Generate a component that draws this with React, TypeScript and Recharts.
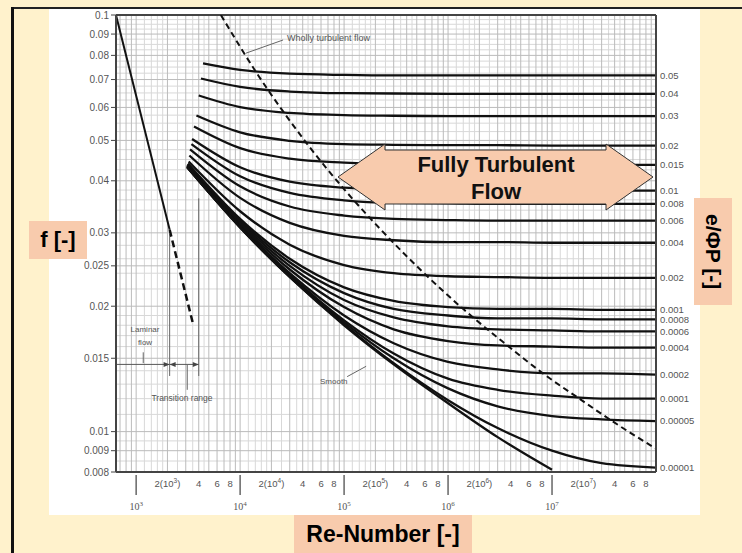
import React from 'react';
import {
  LineChart,
  Line,
  XAxis,
  YAxis,
  ReferenceLine,
  ReferenceDot,
} from 'recharts';

// relative roughness of each curve (right-hand labels), top to bottom
const epsLabels = [
  '0.05', '0.04', '0.03', '0.02', '0.015', '0.01', '0.008', '0.006', '0.004',
  '0.002', '0.001', '0.0008', '0.0006', '0.0004', '0.0002', '0.0001', '0.00005', '0.00001',
];

// where each rough curve begins (left end)
const startRe = [4400, 4200, 4000, 3800, 3600, 3450, 3400, 3300, 3250, 3200, 3150, 3120, 3100, 3100, 3100, 3100, 3100, 3100];
const startF = [0.0765, 0.0704, 0.0641, 0.0574, 0.054, 0.0504, 0.049, 0.0476, 0.046, 0.0445, 0.044, 0.0438, 0.0436, 0.0435, 0.0433, 0.0432, 0.0431, 0.0431];

// Reynolds numbers at which the curves were read
const reSamples = [1e4, 3e4, 1e5, 3e5, 1e6, 3e6, 1e7, 3e7, 1e8];

// friction factor read at reSamples, one row per roughness
const fRough = [
  [0.0738, 0.0723, 0.0718, 0.0716, 0.0716, 0.0716, 0.0716, 0.0716, 0.0716],
  [0.0672, 0.0655, 0.0649, 0.0648, 0.0647, 0.0647, 0.0647, 0.0647, 0.0647],
  [0.0601, 0.0582, 0.0575, 0.0573, 0.0572, 0.0572, 0.0572, 0.0572, 0.0572],
  [0.0523, 0.0499, 0.049, 0.0488, 0.0487, 0.0487, 0.0486, 0.0486, 0.0486],
  [0.0479, 0.0452, 0.0442, 0.0438, 0.0437, 0.0437, 0.0437, 0.0437, 0.0437],
  [0.0431, 0.0398, 0.0385, 0.0381, 0.038, 0.0379, 0.0379, 0.0379, 0.0379],
  [0.041, 0.0374, 0.0359, 0.0354, 0.0353, 0.0352, 0.0352, 0.0352, 0.0352],
  [0.0388, 0.0347, 0.033, 0.0324, 0.0322, 0.0321, 0.0321, 0.0321, 0.0321],
  [0.0364, 0.0317, 0.0295, 0.0288, 0.0285, 0.0285, 0.0284, 0.0284, 0.0284],
  [0.0338, 0.0281, 0.0251, 0.024, 0.0236, 0.0235, 0.0234, 0.0234, 0.0234],
  [0.0324, 0.026, 0.0222, 0.0206, 0.0199, 0.0197, 0.0197, 0.0196, 0.0196],
  [0.0321, 0.0255, 0.0215, 0.0197, 0.019, 0.0187, 0.0187, 0.0186, 0.0186],
  [0.0318, 0.025, 0.0207, 0.0188, 0.0179, 0.0176, 0.0175, 0.0174, 0.0174],
  [0.0315, 0.0245, 0.0199, 0.0176, 0.0165, 0.0161, 0.016, 0.0159, 0.0159],
  [0.0312, 0.024, 0.019, 0.0163, 0.0147, 0.0141, 0.0138, 0.0138, 0.0137],
  [0.031, 0.0238, 0.0185, 0.0154, 0.0134, 0.0126, 0.0122, 0.012, 0.012],
  [0.031, 0.0236, 0.0183, 0.015, 0.0127, 0.0115, 0.0109, 0.0107, 0.0106],
  [0.0309, 0.0235, 0.0181, 0.0146, 0.0119, 0.0102, 0.009, 0.0084, 0.0082],
];

// smooth pipe
const smoothRe = [3100, 1e4, 3e4, 1e5, 3e5, 1e6, 3e6, 1e7];
const smoothF = [0.0431, 0.0309, 0.0235, 0.018, 0.0145, 0.0117, 0.0097, 0.0081];

// laminar line, solid then dashed
const laminarRe = [640, 2100];
const laminarF = [0.1, 0.0305];
const laminarDashRe = [2100, 3550];
const laminarDashF = [0.0305, 0.018];

// wholly turbulent boundary (dashed)
const whollyRe = [6530, 14950, 27900, 45400, 102700, 229500, 653600, 1.43e6, 3.1e6, 8.5e6, 1.83e7, 3.9e7, 1e8];
const whollyF = [0.1, 0.0716, 0.0572, 0.0486, 0.0379, 0.0304, 0.0234, 0.0196, 0.0167, 0.0137, 0.012, 0.01055, 0.0091];

const leftTicks = [0.008, 0.009, 0.01, 0.015, 0.02, 0.025, 0.03, 0.04, 0.05, 0.06, 0.07, 0.08, 0.09, 0.1];
const xTicks = [
  1e3, 2e3, 4e3, 6e3, 8e3, 1e4, 2e4, 4e4, 6e4, 8e4, 1e5, 2e5, 4e5, 6e5, 8e5,
  1e6, 2e6, 4e6, 6e6, 8e6, 1e7, 2e7, 4e7, 6e7, 8e7,
];

const X_DOMAIN = [640, 1e8];
const Y_DOMAIN = [0.008, 0.1];

const pts = (re: number[], f: number[]) => re.map((r, i) => ({ re: r, f: f[i] }));

const roughCurves = fRough.map((row, i) => [
  { re: startRe[i], f: startF[i] },
  ...pts(reSamples, row),
]);
const rightTicks = fRough.map((row) => row[row.length - 1]);

// background grid of the log paper
const gridMult = [1.2, 1.4, 1.6, 1.8, 2.5, 3.5, 4.5];
const majorMult = [1, 2, 3, 4, 5, 6, 7, 8, 9];
const decades = [1e2, 1e3, 1e4, 1e5, 1e6, 1e7];
const inX = (v: number) => v > 640 && v < 1e8;
const gridRe = decades.flatMap((d) => gridMult.map((m) => m * d)).filter(inX);
const gridReMajor = decades.flatMap((d) => majorMult.map((m) => m * d)).filter(inX);
const steps = (a: number, b: number, s: number) => {
  const out: number[] = [];
  for (let v = a; v < b - s / 2; v += s) out.push(+v.toFixed(5));
  return out;
};
const gridF = [
  ...steps(0.008, 0.01, 0.0005),
  ...steps(0.01, 0.02, 0.001),
  ...steps(0.02, 0.04, 0.002),
  ...steps(0.04, 0.1, 0.0025),
].filter((v) => v > 0.008 && !leftTicks.includes(v));

const SANS = '"Liberation Sans", Arial, sans-serif';
const SERIF = '"Liberation Serif", "Times New Roman", serif';
const PEACH = '#F8CBAD';
const CREAM = '#FFF2CC';

function ReTick({ x, y, payload }: any) {
  const v = payload.value as number;
  const exp = Math.floor(Math.log10(v) + 1e-9);
  const mant = Math.round(v / Math.pow(10, exp));
  if (mant === 1) {
    return (
      <g>
        <line x1={x} y1={y + 3} x2={x} y2={y + 23} stroke="#666" strokeWidth={1.5} />
        <text x={x} y={y + 38} textAnchor="middle" fontFamily={SERIF} fontSize={10} fill="#555">
          10<tspan dy={-4} fontSize={7}>{exp}</tspan>
        </text>
      </g>
    );
  }
  if (mant === 2) {
    return (
      <text x={x} y={y + 15} textAnchor="middle" fontFamily={SANS} fontSize={9.5} fill="#555">
        2(10<tspan dy={-4} fontSize={6.5}>{exp}</tspan>
        <tspan dy={4}>)</tspan>
      </text>
    );
  }
  return (
    <text x={x} y={y + 15} textAnchor="middle" fontFamily={SANS} fontSize={9.5} fill="#555">
      {mant}
    </text>
  );
}

const arrowRight = (p: any) => (
  <path d={`M${p.cx - 6},${p.cy - 2.5} L${p.cx},${p.cy} L${p.cx - 6},${p.cy + 2.5} Z`} fill="#444" />
);
const arrowLeft = (p: any) => (
  <path d={`M${p.cx + 6},${p.cy - 2.5} L${p.cx},${p.cy} L${p.cx + 6},${p.cy + 2.5} Z`} fill="#444" />
);

const box = (style: React.CSSProperties): React.CSSProperties => ({
  position: 'absolute',
  background: PEACH,
  color: '#000',
  fontFamily: SANS,
  fontWeight: 'bold',
  display: 'flex',
  alignItems: 'center',
  justifyContent: 'center',
  ...style,
});

const lineProps = {
  dataKey: 'f',
  stroke: '#111',
  dot: false,
  activeDot: false,
  isAnimationActive: false,
};

export default function App() {
  return (
    <div
      style={{
        position: 'absolute',
        left: 0,
        top: 0,
        width: 742,
        height: 553,
        background: CREAM,
        overflow: 'hidden',
      }}
    >
      <div style={{ position: 'absolute', left: 12, top: 7, width: 730, height: 2, background: '#222' }} />
      <div style={{ position: 'absolute', left: 11, top: 7, width: 3, height: 546, background: '#111' }} />
      <div style={{ position: 'absolute', left: 49, top: 9, width: 651, height: 506, background: '#fff' }} />

      <div style={{ position: 'absolute', left: 0, top: 0 }}>
        <LineChart width={742} height={553} margin={{ top: 15, right: 36, bottom: 31, left: 56 }}>
          {gridRe.map((v) => (
            <ReferenceLine key={`gx${v}`} x={v} stroke="#d8d8d8" strokeWidth={1} />
          ))}
          {gridF.map((v) => (
            <ReferenceLine key={`gy${v}`} y={v} stroke="#d8d8d8" strokeWidth={1} />
          ))}
          {gridReMajor.map((v) => (
            <ReferenceLine key={`mx${v}`} x={v} stroke="#bbbbbb" strokeWidth={1} />
          ))}
          {leftTicks.map((v) => (
            <ReferenceLine key={`my${v}`} y={v} stroke="#bbbbbb" strokeWidth={1} />
          ))}
          <XAxis
            dataKey="re"
            type="number"
            scale="log"
            domain={X_DOMAIN}
            allowDataOverflow
            ticks={xTicks}
            interval={0}
            tickLine={false}
            tickSize={0}
            tickMargin={0}
            height={50}
            axisLine={{ stroke: '#444', strokeWidth: 2 }}
            tick={(p: any) => <ReTick {...p} />}
          />
          <YAxis
            yAxisId={0}
            dataKey="f"
            type="number"
            scale="log"
            domain={Y_DOMAIN}
            allowDataOverflow
            ticks={leftTicks}
            interval={0}
            width={60}
            tickSize={5}
            tickMargin={2}
            tickLine={{ stroke: '#444' }}
            axisLine={{ stroke: '#444', strokeWidth: 2 }}
            tick={{ fontSize: 10, fill: '#555', fontFamily: SANS }}
          />
          <YAxis
            yAxisId="eps"
            orientation="right"
            type="number"
            scale="log"
            domain={Y_DOMAIN}
            allowDataOverflow
            ticks={rightTicks}
            interval={0}
            width={50}
            tickSize={0}
            tickMargin={4}
            tickLine={false}
            axisLine={{ stroke: '#444', strokeWidth: 2 }}
            tick={{ fontSize: 9.5, fill: '#555', fontFamily: SANS, textAnchor: 'start' }}
            tickFormatter={(v: number) => epsLabels[rightTicks.indexOf(v)] ?? ''}
          />
          <ReferenceLine y={0.1} stroke="#444" strokeWidth={2} />

          {/* laminar / transition annotation lines */}
          <ReferenceLine segment={[{ x: 640, y: 0.0145 }, { x: 4000, y: 0.0145 }]} stroke="#555" strokeWidth={1} />
          <ReferenceLine segment={[{ x: 2100, y: 0.0298 }, { x: 2100, y: 0.0136 }]} stroke="#666" strokeWidth={1} />
          <ReferenceLine segment={[{ x: 4000, y: 0.0363 }, { x: 4000, y: 0.0136 }]} stroke="#666" strokeWidth={1} />
          <ReferenceLine segment={[{ x: 1170, y: 0.0155 }, { x: 1170, y: 0.0146 }]} stroke="#666" strokeWidth={1} />
          <ReferenceLine segment={[{ x: 3100, y: 0.0145 }, { x: 3100, y: 0.0126 }]} stroke="#666" strokeWidth={1} />
          <ReferenceLine segment={[{ x: 25900, y: 0.0871 }, { x: 11400, y: 0.081 }]} stroke="#666" strokeWidth={1} />
          <ReferenceLine segment={[{ x: 107000, y: 0.01355 }, { x: 163000, y: 0.01435 }]} stroke="#666" strokeWidth={1} />
          <ReferenceDot x={2100} y={0.0145} r={0} shape={arrowRight} />
          <ReferenceDot x={2100} y={0.0145} r={0} shape={arrowLeft} />
          <ReferenceDot x={4000} y={0.0145} r={0} shape={arrowRight} />

          <Line {...lineProps} data={pts(laminarRe, laminarF)} type="linear" strokeWidth={2} />
          <Line
            {...lineProps}
            data={pts(laminarDashRe, laminarDashF)}
            type="linear"
            strokeWidth={2.5}
            strokeDasharray="7 4"
          />
          {roughCurves.map((c, i) => (
            <Line {...lineProps} key={epsLabels[i]} data={c} type="monotone" strokeWidth={2.3} />
          ))}
          <Line {...lineProps} data={pts(smoothRe, smoothF)} type="monotone" strokeWidth={2.3} />
          <Line
            {...lineProps}
            data={pts(whollyRe, whollyF)}
            type="monotone"
            strokeWidth={2}
            strokeDasharray="6 4"
          />
        </LineChart>
      </div>

      <svg
        width={742}
        height={553}
        style={{ position: 'absolute', left: 0, top: 0, pointerEvents: 'none' }}
      >
        <g fontFamily={SANS} fill="#555" fontSize={8}>
          <text x={287} y={41} fontSize={9}>Wholly turbulent flow</text>
          <text x={145} y={332} textAnchor="middle">Laminar</text>
          <text x={145} y={345} textAnchor="middle">flow</text>
          <text x={182} y={401} textAnchor="middle" fontSize={8.5}>Transition range</text>
          <text x={320} y={384}>Smooth</text>
        </g>
        <polygon
          points="338,177 385,144 385,150 606,150 606,144 653,177 606,210 606,204 385,204 385,210"
          fill={PEACH}
          stroke="#333"
          strokeWidth={1}
        />
        <g fontFamily={SANS} fontWeight="bold" fontSize={22} fill="#111" textAnchor="middle">
          <text x={496} y={172}>Fully Turbulent</text>
          <text x={496} y={199}>Flow</text>
        </g>
      </svg>

      <div style={box({ left: 29, top: 221, width: 58, height: 38, fontSize: 22 })}>f [-]</div>
      <div style={box({ left: 294, top: 515, width: 178, height: 38, fontSize: 23 })}>Re-Number [-]</div>
      <div
        style={box({
          left: 694,
          top: 198,
          width: 38,
          height: 107,
          fontSize: 21,
          writingMode: 'vertical-rl',
        })}
      >
        e/ΦP [-]
      </div>
    </div>
  );
}
